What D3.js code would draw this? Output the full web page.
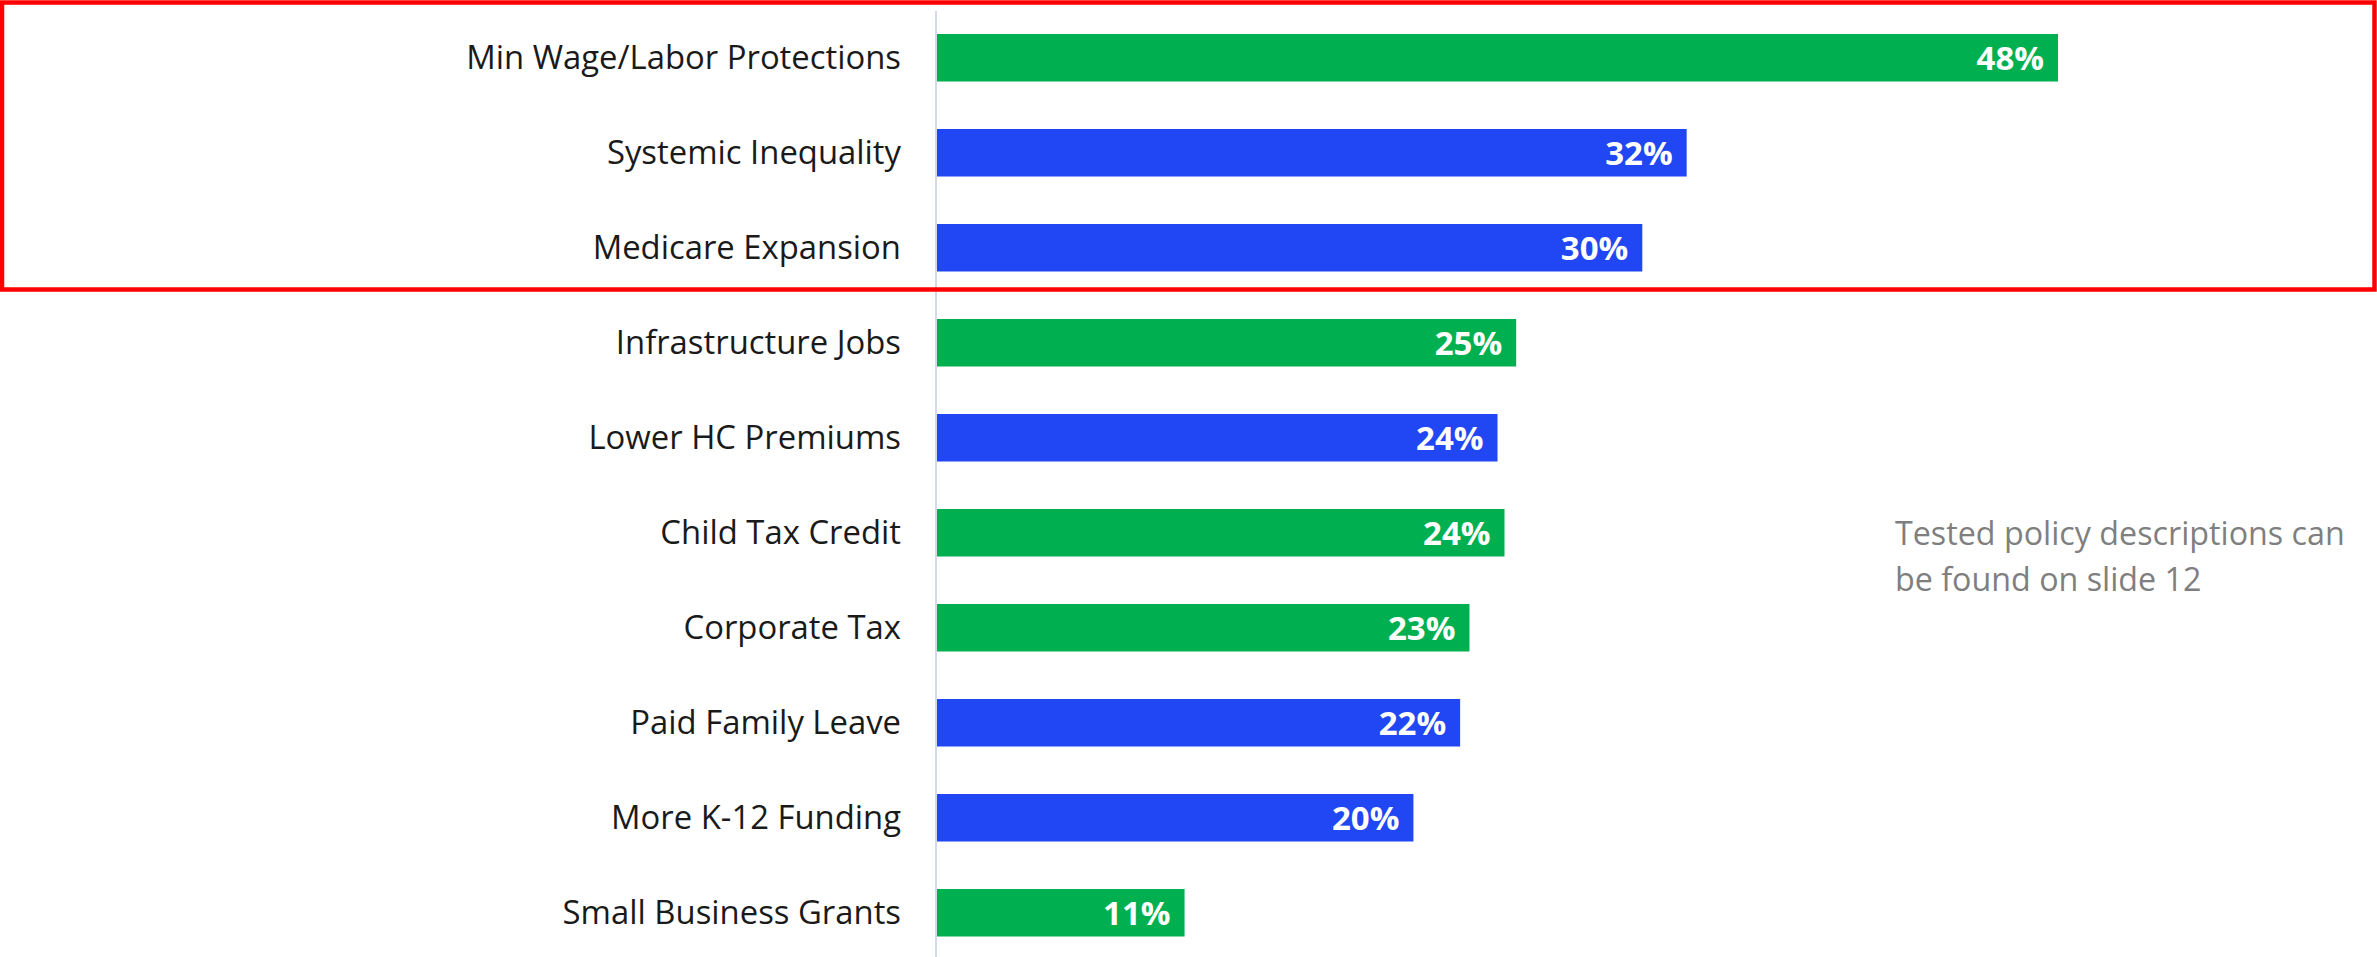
<!DOCTYPE html>
<html>
<head>
<meta charset="utf-8">
<script src="https://cdn.jsdelivr.net/npm/d3@7"></script>
<style>
  html, body { margin: 0; padding: 0; background: #fff; }
  svg { display: block; }
</style>
</head>
<body>
<svg id="chart" width="2377" height="957"></svg>
<script>
// ---- data ----
const categories = [
  "Min Wage/Labor Protections",
  "Systemic Inequality",
  "Medicare Expansion",
  "Infrastructure Jobs",
  "Lower HC Premiums",
  "Child Tax Credit",
  "Corporate Tax",
  "Paid Family Leave",
  "More K-12 Funding",
  "Small Business Grants"
];
const values = [48.0, 32.1, 30.2, 24.8, 24.0, 24.3, 22.8, 22.4, 20.4, 10.6];
const valueLabels = ["48%", "32%", "30%", "25%", "24%", "24%", "23%", "22%", "20%", "11%"];
const groups = ["green", "blue", "blue", "green", "blue", "green", "green", "blue", "blue", "green"];
const noteLines = ["Tested policy descriptions can", "be found on slide 12"];

// ---- styling ----
const colors = { green: "#00B050", blue: "#2047F3" };
const labelFont = "'Liberation Sans Narrow', 'Open Sans', sans-serif";

const svg = d3.select("#chart");

const x = d3.scaleLinear().domain([0, 48]).range([937, 2058]);
const y = d3.scaleBand().domain(categories).range([10.25, 960.25])
  .paddingInner(0.5).paddingOuter(0.25);

const rows = categories.map((c, i) => ({ c, v: values[i], lbl: valueLabels[i], g: groups[i] }));

// bars
svg.append("g").selectAll("rect").data(rows).join("rect")
  .attr("x", x(0))
  .attr("y", d => y(d.c))
  .attr("width", d => x(d.v) - x(0))
  .attr("height", y.bandwidth())
  .attr("fill", d => colors[d.g]);

// axis (category axis at left)
const yAxis = d3.axisLeft(y).tickSize(0).tickPadding(35);
const ag = svg.append("g").attr("transform", `translate(${x(0) - 1},0)`).call(yAxis);
ag.select(".domain").remove();
ag.append("line").attr("x1", 0).attr("x2", 0).attr("y1", 11).attr("y2", 957)
  .attr("stroke", "#D3D9E6").attr("stroke-width", 2);
ag.selectAll(".tick text")
  .attr("font-family", labelFont)
  .attr("font-size", 33)
  .attr("fill", "#1a1a1a")
  .attr("dy", "0.35em");

// fit category labels to target width (Calibri-like narrow)
const targetW = 435;
const node = ag.select(".tick text").node();
const w0 = node.getComputedTextLength();
const fs = 33 * targetW / w0;
ag.selectAll(".tick text").attr("font-size", Math.min(fs, 36));

// value labels
svg.append("g").selectAll("text").data(rows).join("text")
  .attr("x", d => x(d.v) - 14)
  .attr("y", d => y(d.c) + y.bandwidth() / 2)
  .attr("dy", "0.36em")
  .attr("text-anchor", "end")
  .attr("font-family", labelFont)
  .attr("font-weight", "bold")
  .attr("font-size", 33)
  .attr("fill", "#fff")
  .text(d => d.lbl);

// note
const note = svg.append("text")
  .attr("font-family", "'Open Sans', sans-serif")
  .attr("font-size", 29)
  .attr("fill", "#7f7f7f");
note.selectAll("tspan").data(noteLines).join("tspan")
  .attr("x", 1895)
  .attr("y", (d, i) => 545 + i * 46)
  .text(d => d);
const nw = note.select("tspan").node().getComputedTextLength();
note.attr("font-size", 29 * 450 / nw);

// red highlight box
svg.append("rect")
  .attr("x", 2).attr("y", 2.5)
  .attr("width", 2372.5).attr("height", 287)
  .attr("fill", "none")
  .attr("stroke", "#FF0000")
  .attr("stroke-width", 4.5);
</script>
</body>
</html>
